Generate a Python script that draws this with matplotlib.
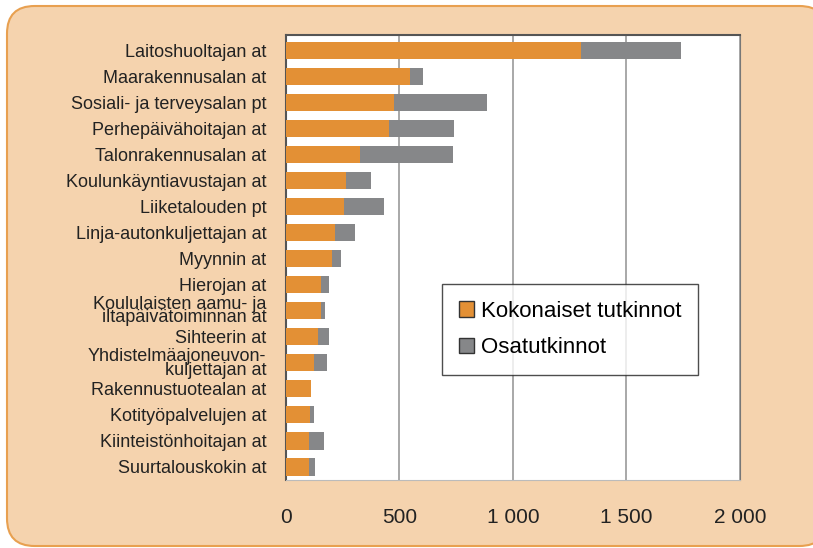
import matplotlib.pyplot as plt
from matplotlib.patches import FancyBboxPatch
from matplotlib.ticker import FuncFormatter

categories = [
    "Laitoshuoltajan at",
    "Maarakennusalan at",
    "Sosiali- ja terveysalan pt",
    "Perhepäivähoitajan at",
    "Talonrakennusalan at",
    "Koulunkäyntiavustajan at",
    "Liiketalouden pt",
    "Linja-autonkuljettajan at",
    "Myynnin at",
    "Hierojan at",
    "Koululaisten aamu- ja\niltapäivätoiminnan at",
    "Sihteerin at",
    "Yhdistelmäajoneuvon-\nkuljettajan at",
    "Rakennustuotealan at",
    "Kotityöpalvelujen at",
    "Kiinteistönhoitajan at",
    "Suurtalouskokin at",
]
kokonaiset = [1300, 547, 477, 455, 327, 265, 256, 217, 204, 156, 156, 143, 126, 112, 108, 104, 104]
osat = [440, 58, 409, 286, 409, 110, 177, 88, 40, 35, 17, 48, 56, 0, 17, 65, 25]
xticks = [0, 500, 1000, 1500, 2000]

ORANGE = "#E39035"
GREY = "#868789"
BG = "#F5D3AE"

plt.rcParams["font.family"] = ["Liberation Sans", "DejaVu Sans"]

fig = plt.figure(figsize=(8.13, 5.48), dpi=100)
fig.patch.set_facecolor("white")

# rounded peach panel behind everything
panel = FancyBboxPatch(
    (7 / 813, 2 / 548), 820 / 813, 540 / 548,
    boxstyle="round,pad=0,rounding_size=0.034",
    transform=fig.transFigure, facecolor=BG, edgecolor="#E8A050",
    linewidth=1.5, zorder=-5, mutation_aspect=813 / 548,
)
fig.patches.append(panel)

ax = fig.add_axes([0.3514, 0.1241, 0.5588, 0.812])
ax.set_facecolor("white")

y = list(range(len(categories)))
ax.barh(y, kokonaiset, height=0.66, color=ORANGE, label="Kokonaiset tutkinnot", zorder=3)
ax.barh(y, osat, left=kokonaiset, height=0.66, color=GREY, label="Osatutkinnot", zorder=3)

ax.set_xlim(0, 2000)
ax.set_ylim(16.5, -0.58)
ax.set_xticks(xticks)
ax.xaxis.set_major_formatter(FuncFormatter(lambda v, p: f"{int(v):,}".replace(",", " ")))
ax.set_yticks(y)
ax.set_yticklabels(categories, fontsize=13, linespacing=0.75)
ax.tick_params(axis="x", length=0, pad=20, labelsize=15, colors="#222222")
ax.tick_params(axis="y", length=0, pad=14, colors="#222222")

ax.grid(axis="x", color="#9a9a9a", linewidth=1.2, zorder=1)
for side in ["left", "top"]:
    ax.spines[side].set_color("#555555")
    ax.spines[side].set_linewidth(1.5)
ax.spines["right"].set_color("#777777")
ax.spines["bottom"].set_color("#bbbbbb")

leg = ax.legend(
    loc="upper left", bbox_to_anchor=(0.344, 0.44), fontsize=16,
    frameon=True, fancybox=False, edgecolor="#222222", borderpad=0.75,
    labelspacing=0.7, handlelength=0.7, handleheight=0.7, handletextpad=0.3,
    borderaxespad=0,
)
leg.get_frame().set_linewidth(1.0)
for h in leg.legend_handles:
    h.set_edgecolor("#333333")
    h.set_linewidth(1.0)

fig.savefig("out.png", dpi=100)
